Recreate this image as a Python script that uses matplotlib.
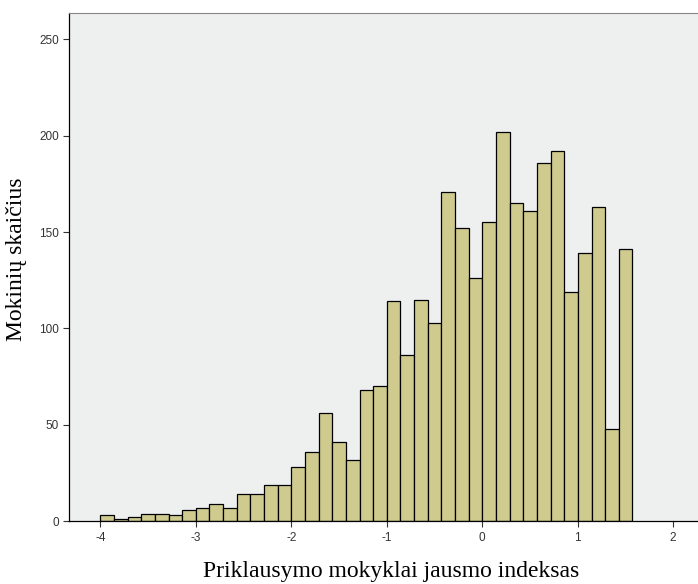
import numpy as np
import matplotlib
matplotlib.use("Agg")
import matplotlib.pyplot as plt

plt.rcParams["axes.unicode_minus"] = False

# Histogram counts (39 bins)
counts = [3, 1, 2, 4, 4, 3, 6, 7, 9, 7, 14, 14, 19, 19, 28, 36, 56, 41, 32,
          68, 70, 114, 86, 115, 103, 171, 152, 126, 155, 202, 165, 161, 186,
          192, 119, 139, 163, 48, 141]
bin_start = -4.0
bin_end = 1.575
x_ticks = [-4, -3, -2, -1, 0, 1, 2]
y_ticks = [0, 50, 100, 150, 200, 250]

edges = np.linspace(bin_start, bin_end, len(counts) + 1)
widths = np.diff(edges)

fig = plt.figure(figsize=(6.98, 5.84), dpi=100)
ax = fig.add_axes([0.0993, 0.1074, 0.91, 0.8709])
ax.set_facecolor("#eef0f0")

ax.bar(edges[:-1], counts, width=widths, align="edge",
       color="#cfcb8e", edgecolor="black", linewidth=0.9)

ax.set_xlim(-4.325, 2.33)
ax.set_ylim(0, 263.8)
ax.set_xticks(x_ticks)
ax.set_yticks(y_ticks)
ax.tick_params(labelsize=8.5, length=4, width=0.8, colors="#333333")
for lbl in ax.get_xticklabels() + ax.get_yticklabels():
    lbl.set_family("Liberation Sans")

ax.spines["top"].set_color("#888888")
ax.spines["right"].set_visible(False)
for s in ["left", "bottom"]:
    ax.spines[s].set_linewidth(0.9)

ax.set_ylabel("Mokinių skaičius", family="Liberation Serif", fontsize=17)
ax.set_xlabel("Priklausymo mokyklai jausmo indeksas", family="Liberation Serif",
              fontsize=17)
ax.yaxis.set_label_coords(-0.066, 0.515)
ax.xaxis.set_label_coords(0.506, -0.078)

fig.savefig("out.png", dpi=100)
